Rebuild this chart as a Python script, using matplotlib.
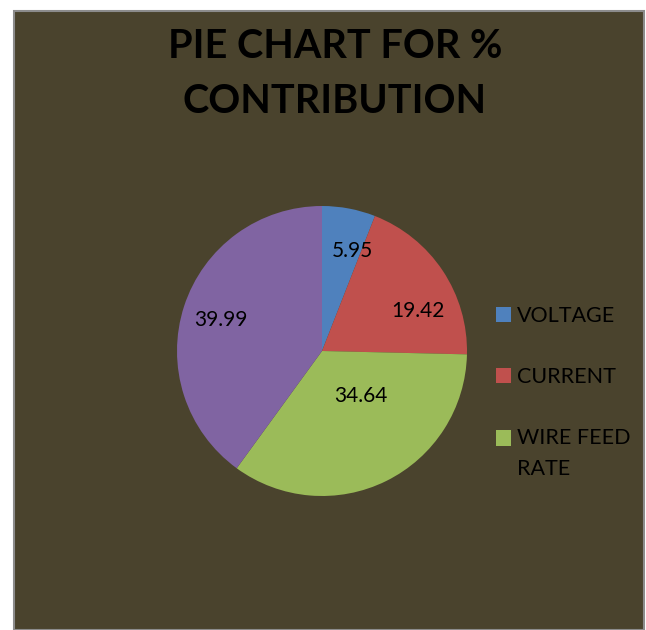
import numpy as np
import matplotlib
matplotlib.use("Agg")
import matplotlib.pyplot as plt
from matplotlib.patches import Rectangle
from matplotlib.legend_handler import HandlerPatch

categories = ["VOLTAGE", "CURRENT", "WIRE FEED\nRATE", ""]
values = [5.95, 19.42, 34.64, 39.99]
value_labels = ["5.95", "19.42", "34.64", "39.99"]
colors = ["#4f81bd", "#c0504d", "#9bbb59", "#8064a2"]
title = "PIE CHART FOR %\nCONTRIBUTION"

BG = "#4a432d"
W, H = 646, 630
fig = plt.figure(figsize=(W / 100, H / 100), dpi=100)
fig.patch.set_facecolor("white")

# chart area background with grey border
bg = Rectangle((14 / W, 0), (644 - 14) / W, (H - 11) / H,
               transform=fig.transFigure, facecolor=BG,
               edgecolor="#8c8c8c", linewidth=1.5, zorder=-10)
fig.patches.append(bg)

fig.text(335 / W, 1 - 74 / H, title, ha="center", va="center",
         fontsize=28.5, fontweight="bold", family="Lato", color="black",
         linespacing=1.62, zorder=5)

cx, cy, r = 322, 351, 145
ax = fig.add_axes([(cx - r) / W, 1 - (cy + r) / H, 2 * r / W, 2 * r / H])
ax.set_zorder(2)
ax.patch.set_alpha(0)
wedges, _ = ax.pie(values, colors=colors, startangle=90, counterclock=False,
                   wedgeprops=dict(linewidth=0), radius=1.0)
ax.set_xlim(-1, 1)
ax.set_ylim(-1, 1)
ax.set_aspect("equal")
ax.axis("off")

# label placement style (radius fraction, angle offset in degrees)
lab_r = [0.72, 0.72, 0.41, 0.73]
lab_da = [-6.5, -11, 14, 1]
for w, txt, rr, da in zip(wedges, value_labels, lab_r, lab_da):
    ang = np.deg2rad((w.theta1 + w.theta2) / 2 + da)
    ax.text(rr * np.cos(ang), rr * np.sin(ang), txt, ha="center", va="center",
            fontsize=15, family="Lato", color="black")


def square_top(legend, orig_handle, xdescent, ydescent, width, height, fontsize):
    # align the marker with the first line of a two-line label
    return Rectangle((-xdescent, -ydescent + 11.5), width, height)


handles = wedges[:3]
leg = fig.legend(handles, categories[:3], loc="upper left",
                 bbox_to_anchor=(487 / W, 1 - 297 / H), frameon=False,
                 prop=dict(family="Lato", size=15.5), handlelength=0.7,
                 handleheight=0.7, handletextpad=0.3, labelspacing=1.92,
                 borderaxespad=0,
                 handler_map={wedges[2]: HandlerPatch(patch_func=square_top)})
leg.set_zorder(5)
for t in leg.get_texts():
    t.set_color("black")
    t.set_linespacing(1.65)

fig.savefig("out.png", dpi=100, facecolor=fig.get_facecolor())
